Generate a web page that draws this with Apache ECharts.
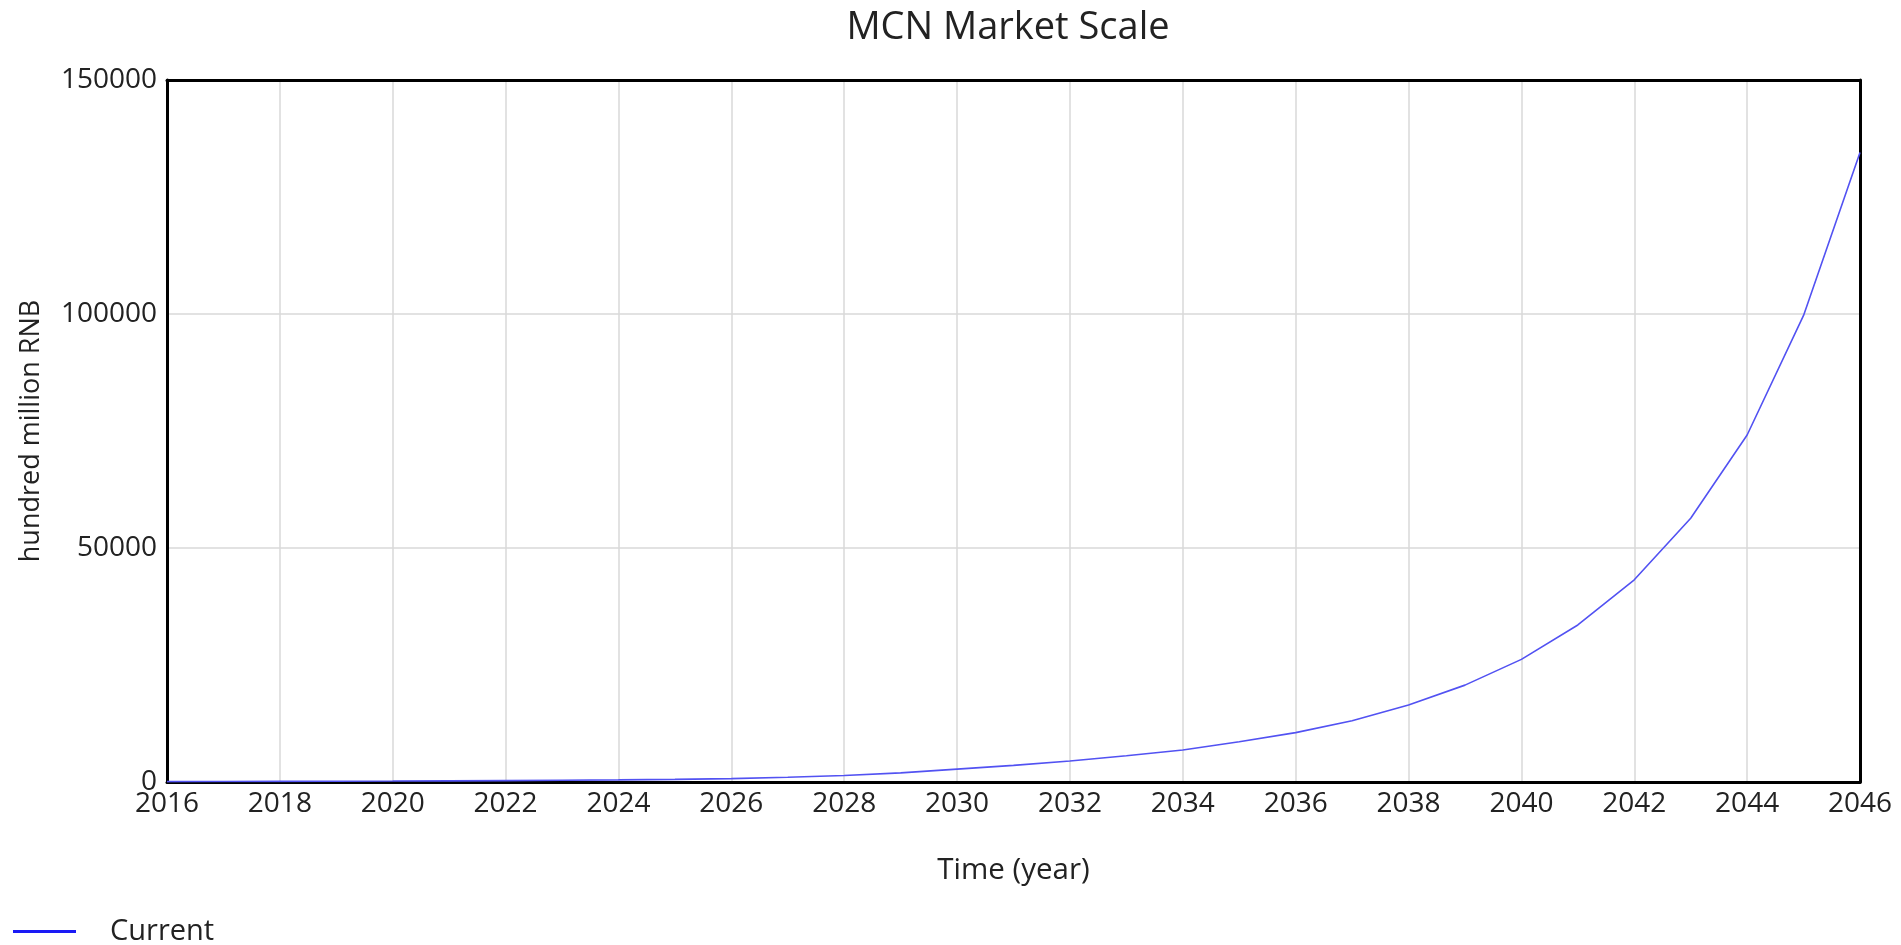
<!DOCTYPE html>
<html>
<head>
<meta charset="utf-8">
<script src="https://cdn.jsdelivr.net/npm/echarts@6/dist/echarts.min.js"></script>
<style>
  html, body { margin: 0; padding: 0; background: #fff; }
  #chart { width: 1901px; height: 945px; }
</style>
</head>
<body>
<div id="chart"></div>
<script>
const years = [2016, 2017, 2018, 2019, 2020, 2021, 2022, 2023, 2024, 2025,
               2026, 2027, 2028, 2029, 2030, 2031, 2032, 2033, 2034, 2035,
               2036, 2037, 2038, 2039, 2040, 2041, 2042, 2043, 2044, 2045, 2046];
const current = [80, 100, 130, 160, 200, 250, 300, 370, 450, 560,
                 720, 1000, 1400, 1950, 2750, 3550, 4480, 5600, 6850, 8600,
                 10550, 13100, 16450, 20700, 26200, 33550, 43200, 56350, 74150, 99700, 134500];
const seriesName = 'Current';
const titleText = 'MCN Market Scale';
const xName = 'Time (year)';
const yName = 'hundred million RNB';

const font = '"Open Sans", "Noto Sans", sans-serif';
const plain = v => String(v);
const chart = echarts.init(document.getElementById('chart'));
chart.setOption({
  animation: false,
  backgroundColor: '#fff',
  title: {
    text: titleText,
    left: 1003,
    textAlign: 'center',
    top: 4,
    textStyle: { fontFamily: font, fontSize: 38, fontWeight: 'normal', color: '#222' }
  },
  legend: {
    left: 8,
    top: 912,
    icon: 'rect',
    itemWidth: 63,
    itemHeight: 3,
    data: [{ name: seriesName, itemStyle: { color: '#1a1af5' } }],
    textStyle: { fontFamily: font, fontSize: 29, color: '#222', padding: [0, 0, 0, 29] }
  },
  grid: {
    left: 167, right: 41, top: 80, bottom: 163,
    show: false
  },
  xAxis: [{
    type: 'value',
    min: 2016, max: 2046, interval: 2,
    name: xName,
    nameLocation: 'middle',
    nameGap: 74,
    nameTextStyle: { fontFamily: font, fontSize: 29.5, color: '#222' },
    axisLine: { show: true, lineStyle: { color: '#000', width: 3 } },
    axisTick: { show: false },
    axisLabel: { fontFamily: font, fontSize: 28, color: '#222', margin: 8, formatter: plain },
    splitLine: { show: true, lineStyle: { color: '#d9d9d9', width: 1.5 } }
  }, {
    type: 'value',
    position: 'top',
    min: 2016, max: 2046, interval: 2,
    axisLine: { show: true, onZero: false, lineStyle: { color: '#000', width: 3 } },
    axisTick: { show: false },
    axisLabel: { show: false },
    splitLine: { show: false }
  }],
  yAxis: [{
    type: 'value',
    min: 0, max: 150000, interval: 50000,
    name: yName,
    nameLocation: 'middle',
    nameRotate: 90,
    nameGap: 122,
    nameTextStyle: { fontFamily: font, fontSize: 27, color: '#222' },
    axisLine: { show: true, lineStyle: { color: '#000', width: 3 } },
    axisTick: { show: false },
    axisLabel: { fontFamily: font, fontSize: 28, color: '#222', margin: 10, formatter: plain },
    splitLine: { show: true, lineStyle: { color: '#d9d9d9', width: 1.5 } }
  }, {
    type: 'value',
    position: 'right',
    min: 0, max: 150000, interval: 50000,
    axisLine: { show: true, onZero: false, lineStyle: { color: '#000', width: 3 } },
    axisTick: { show: false },
    axisLabel: { show: false },
    splitLine: { show: false }
  }],
  series: [{
    name: seriesName,
    type: 'line',
    showSymbol: false,
    symbol: 'none',
    xAxisIndex: 0,
    yAxisIndex: 0,
    data: years.map((y, i) => [y, current[i]]),
    lineStyle: { color: '#5252f2', width: 1.6 },
    itemStyle: { color: '#1a1af5' }
  }]
});
</script>
</body>
</html>
